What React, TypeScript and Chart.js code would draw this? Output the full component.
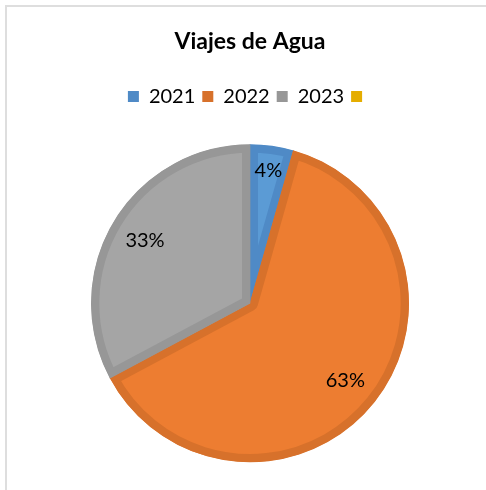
import React, { useEffect, useRef } from "react";
import { Chart, registerables } from "chart.js";

Chart.register(...registerables);

const categories = ["2021", "2022", "2023", ""];
const shares = [4.4, 62.8, 32.8, 0];
const fillColors = ["#5b9bd5", "#ed7d31", "#a5a5a5", "#ffc000"];
const edgeColors = ["#4f8ac6", "#d7712b", "#979797", "#e5ad00"];
const titleText = "Viajes de Agua";

const FONT = "Lato, 'Open Sans', sans-serif";

const pctLabels = {
  id: "pctLabels",
  afterDatasetsDraw(chart: any) {
    const ctx = chart.ctx;
    const meta = chart.getDatasetMeta(0);
    const total = shares.reduce((a, b) => a + b, 0);
    ctx.save();
    ctx.font = `20px ${FONT}`;
    ctx.fillStyle = "#000000";
    ctx.textAlign = "center";
    ctx.textBaseline = "middle";
    meta.data.forEach((arc: any, i: number) => {
      const v = shares[i];
      if (!v) return;
      const p = arc.getProps(["x", "y", "startAngle", "endAngle", "outerRadius"], true);
      const mid = (p.startAngle + p.endAngle) / 2;
      const span = p.endAngle - p.startAngle;
      const f = span < 0.5 ? 0.84 : 0.77;
      const r = p.outerRadius * f;
      const x = p.x + Math.cos(mid) * r;
      const y = p.y + Math.sin(mid) * r;
      ctx.fillText(Math.round((v / total) * 100) + "%", x, y);
    });
    ctx.restore();
  },
};

export default function App() {
  const ref = useRef<HTMLCanvasElement | null>(null);
  useEffect(() => {
    if (!ref.current) return;
    const chart = new Chart(ref.current, {
      type: "pie",
      data: {
        labels: categories,
        datasets: [
          {
            data: shares,
            backgroundColor: fillColors,
            borderColor: edgeColors,
            borderWidth: 8,
            borderAlign: "inner",
            hoverBorderWidth: 8,
          } as any,
        ],
      },
      options: {
        animation: false,
        responsive: false,
        maintainAspectRatio: false,
        events: [],
        layout: { padding: { left: 91, right: 77, top: 0, bottom: 0 } },
        plugins: {
          tooltip: { enabled: false },
          title: {
            display: true,
            text: titleText,
            color: "#000000",
            font: { family: FONT, size: 23, weight: "bold" },
            padding: { top: 28, bottom: 24 },
          },
          legend: {
            display: true,
            position: "top",
            labels: {
              color: "#000000",
              font: { family: FONT, size: 20 },
              boxWidth: 11,
              boxHeight: 11,
              padding: 7,
              generateLabels: () =>
                categories.map((c, i) => ({
                  text: c,
                  fillStyle: edgeColors[i],
                  strokeStyle: edgeColors[i],
                  lineWidth: 0,
                  hidden: false,
                  index: i,
                  fontColor: "#000000",
                })),
            },
          },
        },
      },
      plugins: [pctLabels],
    });
    return () => chart.destroy();
  }, []);
  return (
    <div style={{ position: "fixed", left: 0, top: 0, width: 486, height: 490, background: "#ffffff", overflow: "hidden" }}>
      <div
        style={{
          position: "absolute",
          left: 5,
          top: 5,
          width: 600,
          height: 600,
          borderTop: "2px solid #dedede",
          borderLeft: "2px solid #dedede",
        }}
      />
      <canvas ref={ref} width={486} height={490} style={{ position: "absolute", left: 0, top: 0 }} />
    </div>
  );
}
